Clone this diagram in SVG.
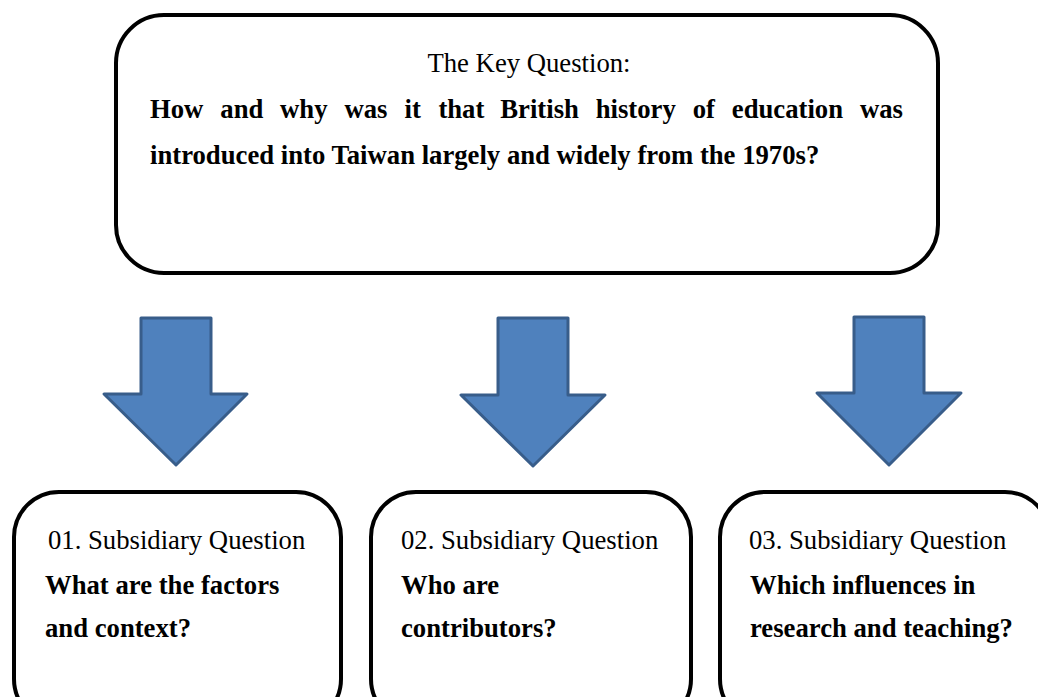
<svg xmlns="http://www.w3.org/2000/svg" width="1038" height="697" viewBox="0 0 1038 697">
<style>
.box{fill:#fff;stroke:#000;stroke-width:4}
.arrow{fill:#4F81BD;stroke:#385D8A;stroke-width:3;stroke-linejoin:round}
.t{font-family:"Liberation Serif","Times New Roman",serif;font-size:26.7px;fill:#000}
.b{font-weight:bold}
</style>
<rect width="1038" height="697" fill="#fff"/>
<g id="key">
<rect class="box" x="116" y="15" width="822" height="258" rx="48" ry="48"/>
<text class="t" x="529" y="72" text-anchor="middle">The Key Question:</text>
<text class="t b" y="118"><tspan x="150">How</tspan><tspan x="220.3">and</tspan><tspan x="280.1">why</tspan><tspan x="344.4">was</tspan><tspan x="404.6">it</tspan><tspan x="438.4">that</tspan><tspan x="500.3">British</tspan><tspan x="595.7">history</tspan><tspan x="692.7">of</tspan><tspan x="731.8">education</tspan><tspan x="859.9">was</tspan></text>
<text class="t b" x="150" y="164">introduced into Taiwan largely and widely from the 1970s?</text>
</g>
<g id="connectors">
<polygon class="arrow" points="141,318 211,318 211,394 247,394 176,465 104,394 141,394"/>
<polygon class="arrow" points="498,318 568,318 568,395 605,395 533,466 461,395 498,395"/>
<polygon class="arrow" points="854,317 924,317 924,393 961,393 889,465 817,393 854,393"/>
</g>
<g id="sub1">
<rect class="box" x="14" y="492" width="327" height="232" rx="45" ry="45"/>
<text class="t" x="48" y="549">01. Subsidiary Question</text>
<text class="t b" x="45" y="594">What are the factors</text>
<text class="t b" x="45" y="637">and context?</text>
</g>
<g id="sub2">
<rect class="box" x="371" y="492" width="320" height="232" rx="45" ry="45"/>
<text class="t" x="401" y="549">02. Subsidiary Question</text>
<text class="t b" x="401" y="594">Who are</text>
<text class="t b" x="401" y="637">contributors?</text>
</g>
<g id="sub3">
<rect class="box" x="720" y="492" width="330" height="232" rx="45" ry="45"/>
<text class="t" x="749" y="549">03. Subsidiary Question</text>
<text class="t b" x="750" y="594">Which influences in</text>
<text class="t b" x="750" y="637">research and teaching?</text>
</g>
</svg>
